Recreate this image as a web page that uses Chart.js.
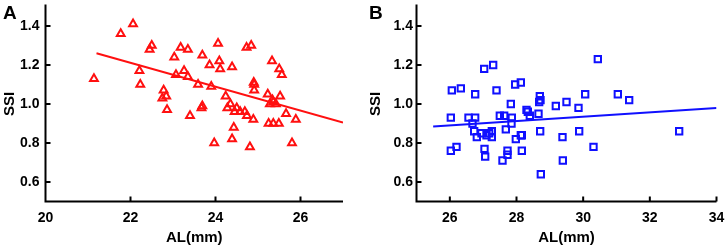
<!DOCTYPE html>
<html>
<head>
<meta charset="utf-8">
<script src="https://cdn.jsdelivr.net/npm/chart.js@4.4.0/dist/chart.umd.min.js"></script>
<style>
  html, body { margin: 0; padding: 0; background: #fff; }
  .wrap { position: relative; width: 726px; height: 247px; }
  .panel { position: absolute; top: 0; width: 363px; height: 247px; }
  .tag { position: absolute; top: 2px; font: bold 19px "Liberation Sans", Arial, sans-serif; color: #000; }
</style>
</head>
<body>
<div class="wrap">
  <div class="panel" style="left:0"><canvas id="chartA" width="363" height="247"></canvas></div>
  <div class="panel" style="left:363px"><canvas id="chartB" width="363" height="247"></canvas></div>
  <div class="tag" style="left:3px">A</div>
  <div class="tag" style="left:369px">B</div>
</div>
<script>
// panel A: AL vs SSI (triangles)
const alA = [21.14, 21.77, 22.06, 22.21, 22.23, 22.45, 22.5, 22.75, 22.78, 22.84, 22.86, 23.03, 23.07, 23.18, 23.26,
  23.35, 23.35, 23.4, 23.59, 23.67, 23.69, 23.69, 23.86, 23.9, 23.97, 24.06, 24.09, 24.11, 24.24, 24.28,
  24.35, 24.39, 24.39, 24.43, 24.45, 24.5, 24.58, 24.69, 24.74, 24.73, 24.81, 24.84, 24.89, 24.9, 24.91,
  24.91, 25.23, 25.25, 25.28, 25.33, 25.34, 25.36, 25.36, 25.42, 25.49, 25.5, 25.56, 25.52, 25.66, 25.8, 25.89];
const ssiA = [1.13, 1.36, 1.41, 1.17, 1.10, 1.28, 1.30, 1.03, 1.07, 1.04, 0.97, 1.24, 1.15, 1.29, 1.17,
  1.28, 1.14, 0.94, 1.10, 0.98, 0.99, 1.25, 1.20, 1.09, 0.80, 1.31, 1.22, 1.18, 1.04, 0.98,
  1.00, 1.19, 0.82, 0.88, 0.96, 0.98, 0.96, 0.96, 0.94, 1.29, 0.78, 1.30, 0.92, 1.11, 1.10,
  1.07, 1.05, 0.90, 1.00, 1.22, 1.02, 1.01, 0.90, 1.00, 0.90, 1.18, 1.15, 1.04, 0.95, 0.80, 0.92];
const fitA = [[21.2, 1.26], [27.0, 0.905]];

// panel B: AL vs SSI (squares)
const alB = [26.03, 26.06, 26.03, 26.2, 26.33, 26.56, 26.68, 26.73, 26.76, 26.76, 26.81, 26.95, 27.03, 27.04,
  27.06, 27.1, 27.18, 27.26, 27.3, 27.26, 27.4, 27.5, 27.58, 27.63, 27.68, 27.73, 27.73, 27.83, 27.86,
  27.85, 27.96, 27.98, 28.13, 28.13, 28.16, 28.16, 28.3, 28.34, 28.4, 28.7, 28.72, 28.68, 28.66, 28.71,
  28.73, 29.18, 29.39, 29.38, 29.5, 29.86, 29.88, 30.06, 30.31, 30.44, 31.04, 31.38, 32.88];
const ssiB = [0.93, 1.07, 0.76, 0.78, 1.08, 0.93, 0.90, 0.86, 0.93, 1.05, 0.83, 0.85, 1.18, 0.77,
  0.73, 0.84, 0.85, 0.86, 1.20, 0.83, 1.07, 0.94, 0.71, 0.94, 0.87, 0.74, 0.76, 1.00, 0.93,
  0.90, 1.10, 0.82, 1.11, 0.84, 0.84, 0.76, 0.97, 0.96, 0.94, 1.04, 1.02, 1.01, 0.95, 0.86,
  0.64, 0.99, 0.71, 0.83, 1.01, 0.98, 0.86, 1.05, 0.78, 1.23, 1.05, 1.02, 0.86];
const fitB = [[25.5, 0.885], [34.0, 0.98]];

const ticksA = [20, 22, 24, 26];
const ticksB = [26, 28, 30, 32, 34];
const ticksY = [0.6, 0.8, 1.0, 1.2, 1.4];

const FONT = '"Liberation Sans", Arial, sans-serif';

function toPoints(xs, ys) {
  return xs.map((x, i) => ({ x: x, y: ys[i] }));
}

// left/bottom axis lines with short ticks pointing into the plot
const axisLines = {
  id: 'axisLines',
  afterDatasetsDraw(chart) {
    const { ctx, chartArea: a, scales: { x, y } } = chart;
    ctx.save();
    ctx.strokeStyle = '#000';
    ctx.lineWidth = 2;
    ctx.beginPath();
    ctx.moveTo(a.left, a.top - 2);
    ctx.lineTo(a.left, a.bottom);
    ctx.lineTo(a.right, a.bottom);
    x.ticks.forEach(t => {
      const px = x.getPixelForValue(t.value);
      ctx.moveTo(px, a.bottom);
      ctx.lineTo(px, a.bottom - 5);
    });
    y.ticks.forEach(t => {
      const py = y.getPixelForValue(t.value);
      ctx.moveTo(a.left, py);
      ctx.lineTo(a.left + 5, py);
    });
    ctx.stroke();
    ctx.restore();
  }
};

function noPad(s) {
  s.paddingTop = 0; s.paddingBottom = 0; s.paddingLeft = 0; s.paddingRight = 0;
}

function makeChart(id, p) {
  return new Chart(document.getElementById(id), {
    type: 'scatter',
    data: {
      datasets: [
        {
          data: toPoints(p.xs, p.ys),
          pointStyle: p.marker,
          pointRadius: p.radius,
          pointBorderWidth: 2,
          pointBorderColor: p.color,
          pointBackgroundColor: 'rgba(0,0,0,0)',
          order: 2
        },
        {
          type: 'line',
          data: p.fit.map(f => ({ x: f[0], y: f[1] })),
          borderColor: p.color,
          borderWidth: 2,
          pointRadius: 0,
          order: 1
        }
      ]
    },
    plugins: [axisLines],
    options: {
      responsive: false,
      animation: false,
      layout: { padding: { left: 0, right: p.rightPad, top: 3.5, bottom: 0 } },
      plugins: { legend: { display: false }, tooltip: { enabled: false } },
      scales: {
        x: {
          min: p.xMin, max: p.xMax,
          border: { display: false },
          grid: { display: false, drawTicks: false },
          ticks: { color: '#000', padding: 8, font: { family: FONT, size: 14, weight: 'bold' } },
          afterBuildTicks: s => { s.ticks = p.xTicks.map(v => ({ value: v })); },
          afterFit: s => { s.height = 45.5; noPad(s); },
          title: { display: true, text: 'AL(mm)', color: '#000', padding: { top: 0, bottom: 0 },
                   font: { family: FONT, size: 15, weight: 'bold' } }
        },
        y: {
          min: 0.5, max: 1.5,
          border: { display: false },
          grid: { display: false, drawTicks: false },
          ticks: { color: '#000', padding: p.yPad, font: { family: FONT, size: 14, weight: 'bold' },
                   callback: v => v.toFixed(1) },
          afterBuildTicks: s => { s.ticks = ticksY.map(v => ({ value: v })); },
          afterFit: s => { s.width = p.yWidth; noPad(s); },
          title: { display: true, text: 'SSI', color: '#000', padding: { top: p.titlePad, bottom: 0 },
                   font: { family: FONT, size: 15, weight: 'bold' } }
        }
      }
    }
  });
}

makeChart('chartA', {
  xs: alA, ys: ssiA, fit: fitA, color: '#ff1010', marker: 'triangle', radius: 4.5,
  xMin: 20, xMax: 27, xTicks: ticksA, rightPad: 20, yWidth: 45.5, yPad: 6, titlePad: 1
});
makeChart('chartB', {
  xs: alB, ys: ssiB, fit: fitB, color: '#1010ff', marker: 'rect', radius: 4.5,
  xMin: 25, xMax: 34, xTicks: ticksB, rightPad: 9.5, yWidth: 53.5, yPad: 3.5, titlePad: 4
});
</script>
</body>
</html>
